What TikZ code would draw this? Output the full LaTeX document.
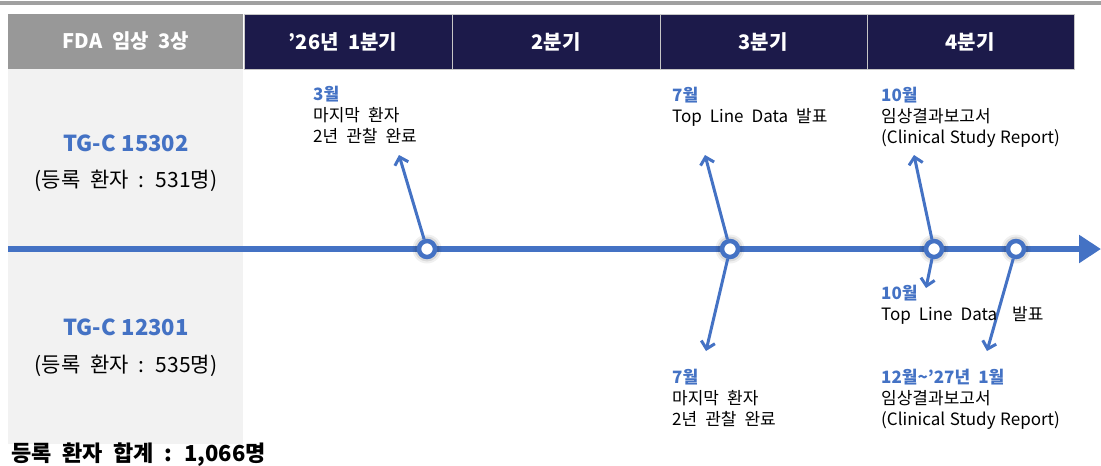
\documentclass[tikz,border=0pt]{standalone}
\usepackage{fontspec}
\setmainfont[WordSpace=2.1]{Noto Sans CJK KR}
\usetikzlibrary{arrows.meta}
\definecolor{tlblue}{HTML}{4472C4}
\definecolor{navy}{HTML}{1C1A4A}
\definecolor{hgray}{HTML}{989898}
\definecolor{colgray}{HTML}{F2F2F2}
\definecolor{topgray}{HTML}{A0A0A0}
\newcommand{\narrowsp}[1]{{\spaceskip=0.27em\relax #1}}
\begin{document}
\begin{tikzpicture}[x=1pt,y=-1pt,
  hdr/.style={text=white,font=\fontsize{20}{23}\selectfont\bfseries,inner sep=0},
  cellbox/.style={draw=gray!45,line width=1pt},
  ann/.style={draw=tlblue,line width=3pt,-{Straight Barb[length=7pt,width=14pt]}},
  dot/.style={circle,draw=tlblue,fill=white,line width=4.5pt,minimum size=16pt,inner sep=0},
  lbl/.style={anchor=base west,inner sep=0,font=\fontsize{17}{21}\selectfont},
  tgname/.style={text=tlblue,font=\fontsize{22}{26}\selectfont\bfseries,inner sep=0},
  tgsub/.style={font=\fontsize{21}{25}\selectfont,inner sep=0}]
\useasboundingbox (0,0) rectangle (1101,466);
% top grey rule
\fill[topgray] (0,1) rectangle (1101,5);
% left grey column
\fill[colgray] (8,69) rectangle (243,444);
% header row
\fill[hgray] (8,14) rectangle (243,69);
\filldraw[fill=navy,cellbox] (244,14) rectangle (452,69);
\filldraw[fill=navy,cellbox] (452,14) rectangle (660,69);
\filldraw[fill=navy,cellbox] (660,14) rectangle (867,69);
\filldraw[fill=navy,cellbox] (867,14) rectangle (1074,69);
\node[hdr] (h0) at (126,41.5) {FDA 임상 3상};
\node[hdr] (h1) at (343,41.5) {’26년 1분기};
\node[hdr] (h2) at (556,41.5) {2분기};
\node[hdr] (h3) at (763,41.5) {3분기};
\node[hdr] (h4) at (970,41.5) {4분기};
% left column texts
\node[tgname] (g1) at (126,143) {\narrowsp{TG-C 15302}};
\node[tgsub] (g1s) at (126,181) {(등록 환자 : 531명)};
\node[tgname] (g2) at (126,327) {\narrowsp{TG-C 12301}};
\node[tgsub] (g2s) at (126,366) {(등록 환자 : 535명)};
\node[anchor=base west,inner sep=0,font=\fontsize{22}{26}\selectfont\bfseries] (tot) at (11,461) {등록 환자 합계 : 1,066명};
% timeline
\coordinate (tl0) at (8,249);
\coordinate (tl1) at (1101,249);
\draw[tlblue,line width=5.5pt,-{Triangle[length=22pt,width=27pt]}] (tl0) -- (tl1);
% milestones
\coordinate (p1) at (427,249);
\coordinate (p2) at (730,249);
\coordinate (p3) at (934,249);
\coordinate (p4) at (1016,249);
\foreach \p in {p1,p2,p3,p4}{
  \fill[black,opacity=0.06] (\p) circle (14.5);
  \fill[black,opacity=0.09] (\p) circle (12.5);
}
\node[dot] (c1) at (p1) {};
\node[dot] (c2) at (p2) {};
\node[dot] (c3) at (p3) {};
\node[dot] (c4) at (p4) {};
% arrow tips
\coordinate (t1) at (399,155);
\coordinate (t2) at (705,155);
\coordinate (t3) at (706,351);
\coordinate (t4) at (914,155);
\coordinate (t5) at (926,288);
\coordinate (t6) at (987,351);
\draw[ann] (c1) -- (t1);
\draw[ann] (c2) -- (t2);
\draw[ann] (c2) -- (t3);
\draw[ann] (c3) -- (t4);
\draw[ann] (c3) -- (t5);
\draw[ann] (c4) -- (t6);
% labels
\node[lbl] (l1) at (313,100.5) {\begin{tabular}[t]{@{}l@{}}{\color{tlblue}\bfseries 3월}\\마지막 환자\\2년 관찰 완료\end{tabular}};
\node[lbl] (l2) at (672,101) {\begin{tabular}[t]{@{}l@{}}{\color{tlblue}\bfseries 7월}\\Top Line Data 발표\end{tabular}};
\node[lbl] (l3) at (881,101) {\begin{tabular}[t]{@{}l@{}}{\color{tlblue}\bfseries 10월}\\임상결과보고서\\\narrowsp{(Clinical Study Report)}\end{tabular}};
\node[lbl] (l4) at (881,299) {\begin{tabular}[t]{@{}l@{}}{\color{tlblue}\bfseries 10월}\\Top Line Data\hspace{15pt}발표\end{tabular}};
\node[lbl] (l5) at (672,383) {\begin{tabular}[t]{@{}l@{}}{\color{tlblue}\bfseries 7월}\\마지막 환자\\2년 관찰 완료\end{tabular}};
\node[lbl] (l6) at (881,383) {\begin{tabular}[t]{@{}l@{}}{\color{tlblue}\bfseries 12월\textasciitilde’27년 1월}\\임상결과보고서\\\narrowsp{(Clinical Study Report)}\end{tabular}};
\end{tikzpicture}
\end{document}
